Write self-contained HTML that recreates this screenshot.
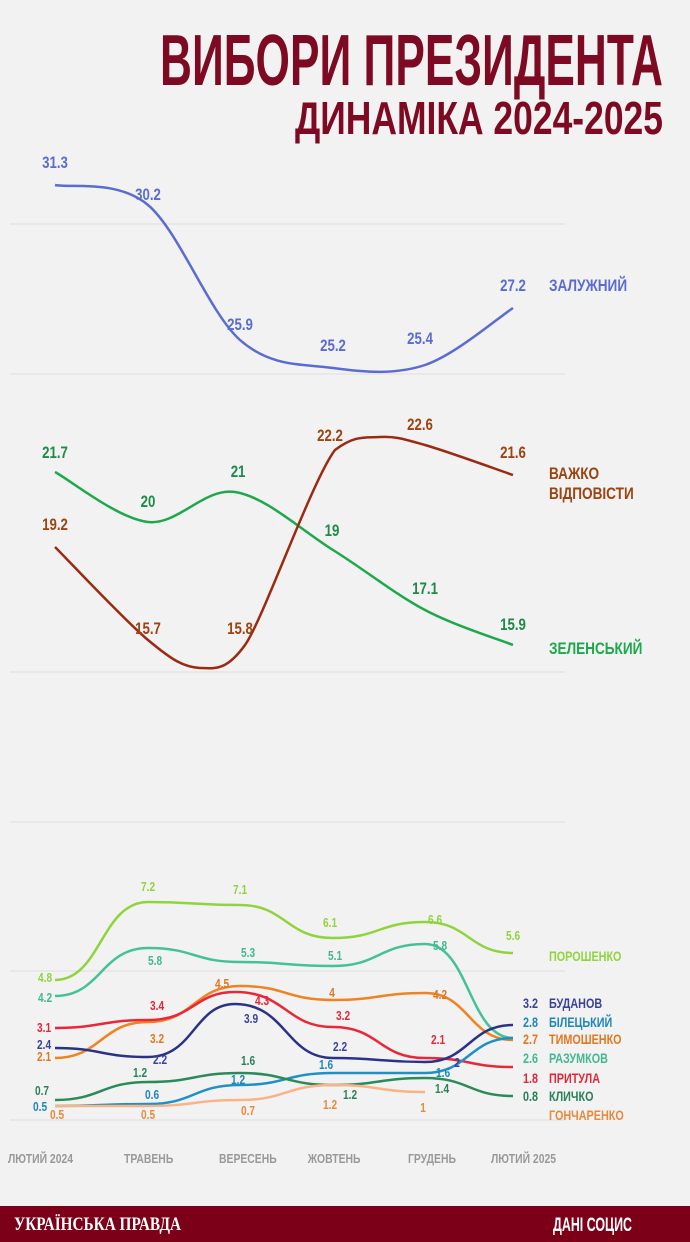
<!DOCTYPE html>
<html><head><meta charset="utf-8"><style>
html,body{margin:0;padding:0;background:#f2f2f2;}
svg{display:block;}
text{font-family:"Liberation Sans Narrow","Liberation Sans","DejaVu Sans Condensed",sans-serif;font-weight:bold;}
.m text{transform-box:fill-box;transform-origin:center;transform:scaleX(.78);}
.s text{transform-box:fill-box;transform-origin:left;transform:scaleX(.8);}
</style></head><body>
<svg width="690" height="1242" viewBox="0 0 690 1242" xmlns="http://www.w3.org/2000/svg">
<rect width="690" height="1242" fill="#f2f2f2"/>
<text x="663" y="85" text-anchor="end" font-size="72" fill="#7d0a22" textLength="503" lengthAdjust="spacingAndGlyphs">ВИБОРИ ПРЕЗИДЕНТА</text>
<text x="663" y="134" text-anchor="end" font-size="46" fill="#7d0a22" textLength="368" lengthAdjust="spacingAndGlyphs">ДИНАМІКА 2024-2025</text>
<g stroke="#dddddd" stroke-width="1">
<line x1="10" y1="224" x2="565" y2="224"/><line x1="10" y1="374" x2="565" y2="374"/>
<line x1="10" y1="672" x2="565" y2="672"/><line x1="10" y1="822" x2="565" y2="822"/>
<line x1="10" y1="971" x2="565" y2="971"/><line x1="10" y1="1120" x2="565" y2="1120"/>
</g>
<g fill="none" stroke-width="2.5">
<path stroke="#5b6cd0" d="M55,185 C70.5,188.3 117.2,179.2 148,205 C178.8,230.8 209.2,312.8 240,340 C270.8,367.2 302.2,363.8 333,368 C363.8,372.2 395,375 425,365 C455,355 498.3,317.5 513,308"/>
<path stroke="#1ea84c" d="M55,472 C70.5,480.3 118,518.7 148,522 C178,525.3 204.2,487.3 235,492 C265.8,496.7 301.3,530.3 333,550 C364.7,569.7 395,594.2 425,610 C455,625.8 498.3,639.2 513,645"/>
<path stroke="#9b2a12" d="M55,547 C70.5,562.5 123.8,619.8 148,640 C172.2,660.2 183.8,667.2 200,668 C216.2,668.8 227,670 245,645 C263,620 312,480 335,450 C355,435 365,437.8 380,437 C395,436.2 402.8,438.7 425,445 C447.2,451.3 498.3,470 513,475"/>
<path stroke="#8fd43c" d="M55,980 C101,980 101,902 148,902 C194,902 194,905 240,905 C286,905 286,938 333,938 C379,938 379,922 425,922 C469,922 469,953 513,953"/>
<path stroke="#43c29a" d="M55,996 C101,996 101,948 148,948 C194,948 194,962 240,962 C286,962 286,966 333,966 C379,966 379,944 425,944 C469,944 469,1038 513,1038"/>
<path stroke="#f08220" d="M55,1058 C101,1058 101,1022 148,1022 C194,1022 194,986 240,986 C286,986 286,1000 333,1000 C379,1000 379,993 425,993 C469,993 469,1040 513,1040"/>
<path stroke="#e8283a" d="M55,1028 C101,1028 101,1020 148,1020 C194,1020 194,992 235,992 C286,992 286,1027 333,1027 C379,1027 379,1058 425,1058 C469,1058 469,1067 513,1067"/>
<path stroke="#2a3288" d="M55,1048 C101,1048 101,1057 148,1057 C194,1057 194,1004 235,1004 C286,1004 286,1058 333,1058 C379,1058 379,1062 425,1062 C469,1062 469,1025 513,1025"/>
<path stroke="#1e90c4" d="M55,1106 C101,1106 101,1104 148,1104 C194,1104 194,1085 240,1085 C286,1085 286,1073 333,1073 C379,1073 379,1073 425,1073 C469,1073 469,1038 513,1038"/>
<path stroke="#2a8a5a" d="M55,1100 C101,1100 101,1082 148,1082 C194,1082 194,1073 240,1073 C286,1073 286,1085 333,1085 C379,1085 379,1078 425,1078 C469,1078 469,1096 513,1096"/>
<path stroke="#f8b486" d="M55,1106 C101,1106 101,1106 148,1106 C194,1106 194,1100 240,1100 C286,1100 286,1085 333,1085 C379,1085 379,1092 425,1092"/>
</g>
<g class="m" font-size="17" text-anchor="middle">
<g fill="#5b6cd0"><text x="55" y="168">31.3</text><text x="148" y="200">30.2</text><text x="240" y="330">25.9</text><text x="333" y="351">25.2</text><text x="420" y="344">25.4</text><text x="513" y="291">27.2</text></g>
<g fill="#1e8a48"><text x="55" y="458">21.7</text><text x="148" y="507">20</text><text x="238" y="477">21</text><text x="332" y="536">19</text><text x="425" y="594">17.1</text><text x="513" y="630">15.9</text></g>
<g fill="#9b4412"><text x="55" y="530">19.2</text><text x="148" y="634">15.7</text><text x="240" y="634">15.8</text><text x="330" y="441">22.2</text><text x="420" y="430">22.6</text><text x="513" y="458">21.6</text></g>
</g>
<g class="m" font-size="13" text-anchor="middle">
<g fill="#8fd43c"><text x="45" y="982">4.8</text><text x="148" y="891">7.2</text><text x="240" y="894">7.1</text><text x="330" y="927">6.1</text><text x="435" y="924">6.6</text><text x="513" y="940">5.6</text></g>
<g fill="#43b890"><text x="45" y="1002">4.2</text><text x="155" y="965">5.8</text><text x="248" y="957">5.3</text><text x="335" y="960">5.1</text><text x="440" y="950">5.8</text></g>
<g fill="#e07820"><text x="44" y="1061">2.1</text><text x="157" y="1043">3.2</text><text x="222" y="988">4.5</text><text x="332" y="997">4</text><text x="440" y="999">4.2</text></g>
<g fill="#e22838"><text x="44" y="1032">3.1</text><text x="157" y="1010">3.4</text><text x="262" y="1005">4.3</text><text x="343" y="1020">3.2</text><text x="438" y="1044">2.1</text></g>
<g fill="#3a4298"><text x="44" y="1049">2.4</text><text x="160" y="1064">2.2</text><text x="251" y="1023">3.9</text><text x="340" y="1051">2.2</text><text x="457" y="1067">2</text></g>
<g fill="#1e86b8"><text x="40" y="1111">0.5</text><text x="152" y="1099">0.6</text><text x="238" y="1084">1.2</text><text x="326" y="1069">1.6</text><text x="443" y="1077">1.6</text></g>
<g fill="#2a8058"><text x="42" y="1095">0.7</text><text x="140" y="1077">1.2</text><text x="248" y="1065">1.6</text><text x="350" y="1099">1.2</text><text x="442" y="1093">1.4</text></g>
<g fill="#e88a3a"><text x="57" y="1119">0.5</text><text x="148" y="1119">0.5</text><text x="248" y="1115">0.7</text><text x="330" y="1109">1.2</text><text x="423" y="1112">1</text></g>
</g>
<g class="s" font-size="17">
<text x="549" y="291" fill="#5b6cd0">ЗАЛУЖНИЙ</text>
<text x="549" y="479" fill="#9b4412">ВАЖКО</text>
<text x="549" y="499" fill="#9b4412">ВІДПОВІСТИ</text>
<text x="549" y="654" fill="#1ea84c">ЗЕЛЕНСЬКИЙ</text>
</g>
<g class="s" font-size="13.5">
<text x="549" y="961" fill="#8fd43c">ПОРОШЕНКО</text>
<text x="523" y="1008" fill="#3a4298">3.2</text><text x="549" y="1008" fill="#3a4298">БУДАНОВ</text>
<text x="523" y="1027" fill="#1e86b8">2.8</text><text x="549" y="1027" fill="#1e86b8">БІЛЕЦЬКИЙ</text>
<text x="523" y="1044" fill="#e07820">2.7</text><text x="549" y="1044" fill="#e07820">ТИМОШЕНКО</text>
<text x="523" y="1063" fill="#43b890">2.6</text><text x="549" y="1063" fill="#43b890">РАЗУМКОВ</text>
<text x="523" y="1083" fill="#e22838">1.8</text><text x="549" y="1083" fill="#e22838">ПРИТУЛА</text>
<text x="523" y="1101" fill="#2a8058">0.8</text><text x="549" y="1101" fill="#2a8058">КЛИЧКО</text>
<text x="549" y="1120" fill="#e88a3a">ГОНЧАРЕНКО</text>
</g>
<g class="s" font-size="13" fill="#999">
<text x="8" y="1163">ЛЮТИЙ 2024</text><text x="124" y="1163">ТРАВЕНЬ</text><text x="219" y="1163">ВЕРЕСЕНЬ</text><text x="308" y="1163">ЖОВТЕНЬ</text><text x="408" y="1163">ГРУДЕНЬ</text><text x="491" y="1163">ЛЮТИЙ 2025</text>
</g>
<rect x="0" y="1206" width="690" height="36" fill="#7d0019"/>
<text x="14" y="1230" font-size="19" fill="#fff" font-weight="normal" textLength="167" lengthAdjust="spacingAndGlyphs" style="font-family:'Liberation Serif',serif">УКРАЇНСЬКА ПРАВДА</text>
<text x="553" y="1231" font-size="19" fill="#fff" textLength="79" lengthAdjust="spacingAndGlyphs">ДАНІ СОЦИС</text>
</svg>
</body></html>
